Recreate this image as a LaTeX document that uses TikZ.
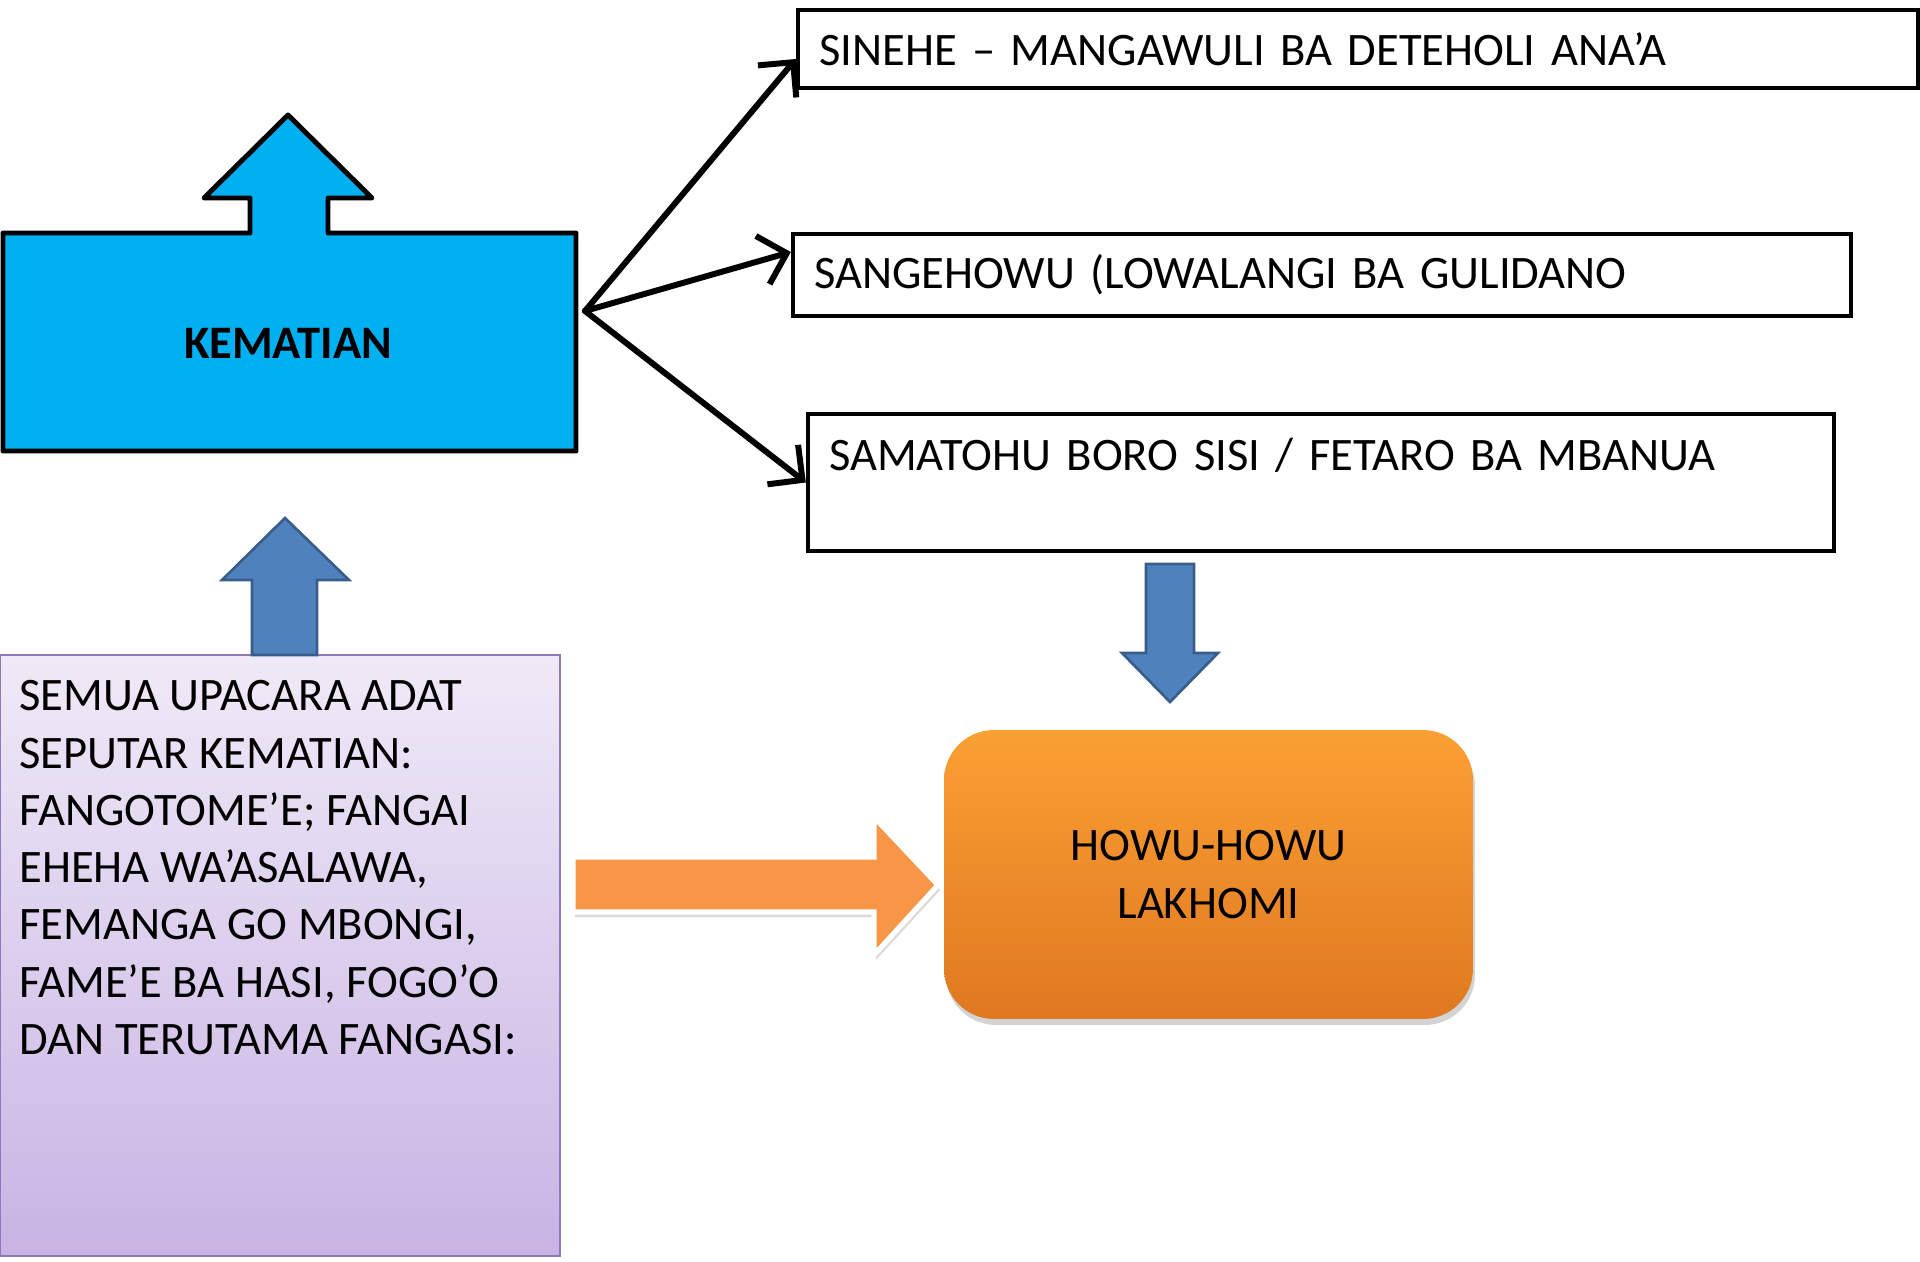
\documentclass[tikz,border=0pt]{standalone}
\usepackage{fontspec}
\setmainfont{Carlito}
\usetikzlibrary{positioning, arrows.meta, shadows}

\definecolor{kemblue}{HTML}{00B0F0}
\definecolor{arrblue}{HTML}{4F81BD}
\definecolor{arrblueline}{HTML}{385D8A}
\definecolor{arrorange}{HTML}{F79646}
\definecolor{howutop}{HTML}{FBA034}
\definecolor{howubot}{HTML}{DF7820}
\definecolor{ritetop}{HTML}{EFEAF7}
\definecolor{ritebot}{HTML}{C8B3E4}
\definecolor{riteline}{HTML}{8F7AB8}

\begin{document}
\begin{tikzpicture}[x=0.02cm, y=-0.02cm,
    txt/.style={font=\fontsize{26.5}{32.6}\selectfont},
    itembox/.style={rectangle, draw=black, line width=2.6pt, align=left,
                    inner xsep=0.42cm, txt},
    arrow/.style={-{Straight Barb[length=5mm, width=10mm]}, line width=3.4pt,
                  line join=round, line cap=round},
    blockarrow/.style={fill=arrblue, draw=arrblueline, line width=1.5pt}
]

    \useasboundingbox (0,0) rectangle (1920,1261);

    % === KEMATIAN ===
    \draw[fill=kemblue, line width=2.8pt, line join=round]
        (3,233) -- (250,233) -- (250,198) -- (204,198) -- (288,115) -- (372,198)
        -- (328,198) -- (328,233) -- (576,233) -- (576,451) -- (3,451) -- cycle;
    \node[font=\fontsize{26.5}{32.6}\selectfont\bfseries] (kematian) at (288,343) {KEMATIAN};
    \coordinate (hub) at (585,311);

    % === Items ===
    \node[itembox, text width=21.56cm, minimum height=1.56cm] (sinehe) at (1358,49)
        {SINEHE – MANGAWULI BA DETEHOLI ANA’A};
    \node[itembox, text width=20.32cm, minimum height=1.64cm] (sangehowu) at (1322,275)
        {SANGEHOWU (LOWALANGI BA GULIDANO};
    \node[itembox, text width=19.68cm, minimum height=2.74cm] (samatohu) at (1321,482.5)
        {SAMATOHU BORO SISI / FETARO BA MBANUA\\ ~};

    \draw[arrow] (hub) -- ([yshift=-0.2cm]sinehe.west);
    \draw[arrow] (hub) -- ([yshift=0.46cm]sangehowu.west);
    \draw[arrow] (hub) -- (samatohu.west);

    % === Upacara adat ===
    \node[rectangle, draw=riteline, line width=1pt, top color=ritetop, bottom color=ritebot,
          minimum width=11.2cm, minimum height=12.02cm, inner sep=0] (rites) at (280,955.5) {};
    \node[txt, anchor=north west, inner sep=0, align=left] (ritestext)
        at ([xshift=0.4cm, yshift=-0.52cm]rites.north west)
        {SEMUA UPACARA ADAT\\SEPUTAR KEMATIAN:\\FANGOTOME’E; FANGAI\\EHEHA WA’ASALAWA,\\
         FEMANGA GO MBONGI,\\FAME’E BA HASI, FOGO’O\\DAN TERUTAMA FANGASI:};

    \draw[blockarrow] (252,655) -- (252,580) -- (222,580) -- (285,518) -- (349,580)
        -- (317,580) -- (317,655) -- cycle;

    % === HOWU-HOWU LAKHOMI ===
    \draw[blockarrow] (1146,564) -- (1194,564) -- (1194,653) -- (1218,653) -- (1170,702)
        -- (1122,653) -- (1146,653) -- cycle;
    \node[rectangle, rounded corners=1cm, top color=howutop, bottom color=howubot,
          minimum width=10.58cm, minimum height=5.78cm, align=center, txt,
          drop shadow={opacity=0.35, shadow xshift=0.04cm, shadow yshift=-0.12cm}]
        (howu) at (1208.5,874.5) {HOWU-HOWU\\LAKHOMI};

    \draw[fill=arrorange, draw=white, line width=3pt,
          drop shadow={opacity=0.3, shadow xshift=0.04cm, shadow yshift=-0.1cm}]
        (573,857) -- (874,857) -- (874,817) -- (938,885) -- (874,955) -- (874,912)
        -- (573,912) -- cycle;

\end{tikzpicture}
\end{document}
